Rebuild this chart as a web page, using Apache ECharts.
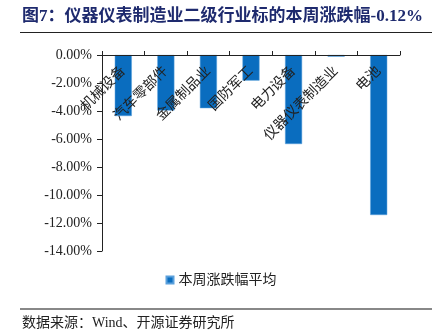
<!DOCTYPE html>
<html><head><meta charset="utf-8">
<script src="https://cdn.jsdelivr.net/npm/echarts@6/dist/echarts.min.js"></script>
<style>html,body{margin:0;padding:0;background:#fff}#c{width:442px;height:334px}</style>
</head><body><div id="c"></div>
<script>
const categories = ['机械设备','汽车零部件','金属制品业','国防军工','电力设备','仪器仪表制造业','电池'];
const values = [-4.36, -3.97, -3.80, -1.83, -6.36, -0.12, -11.43];
const seriesName = '本周涨跌幅平均';
const titleText = '图7：仪器仪表制造业二级行业标的本周涨跌幅-0.12%';
const sourceText = '数据来源：Wind、开源证券研究所';

const chart = echarts.init(document.getElementById('c'), null, {renderer:'canvas'});
const cjk = '"Liberation Serif","Noto Sans CJK SC",serif';
chart.setOption({
  animation:false,
  backgroundColor:'#fff',
  grid:{left:102,right:42,top:55,bottom:83,containLabel:false},
  legend:{
    data:[seriesName], bottom:42, left:'center',
    icon:'rect', itemWidth:7, itemHeight:7, itemGap:6,
    textStyle:{fontFamily:cjk,fontSize:14,color:'#222'}
  },
  xAxis:{
    type:'category', data:categories, position:'top', z:10,
    axisLine:{onZero:false,lineStyle:{color:'#222',width:1}},
    axisTick:{show:true,inside:false,length:4,alignWithLabel:false,lineStyle:{color:'#222'}},
    axisLabel:{inside:true,rotate:-45,align:'right',verticalAlign:'middle',margin:14,interval:0,fontFamily:cjk,fontSize:14,color:'#222'}
  },
  yAxis:{
    type:'value', min:-14, max:0, interval:2,
    splitLine:{show:false},
    axisLine:{show:true,lineStyle:{color:'#222',width:1}},
    axisTick:{show:true,length:5,lineStyle:{color:'#222'}},
    axisLabel:{formatter:v=>v.toFixed(2)+'%',fontFamily:'"Liberation Serif",serif',fontSize:14,color:'#222',margin:10}
  },
  series:[{
    name:seriesName, type:'bar', data:values, barCategoryGap:'60%',
    itemStyle:{color:'#0a6dbf',borderColor:'#5aa0dc',borderWidth:0.5}
  }],
  graphic:[
    {type:'text',left:22,top:8,style:{text:titleText,fontFamily:'"Liberation Serif","Noto Sans CJK SC",serif',fontWeight:'bold',fontSize:17,fill:'#1e2a6e'}},
    {type:'line',shape:{x1:20,y1:32.5,x2:432,y2:32.5},style:{stroke:'#222',lineWidth:1}},
    {type:'line',shape:{x1:20,y1:309,x2:432,y2:309},style:{stroke:'#888',lineWidth:2}},
    {type:'text',left:22,top:316,style:{text:sourceText,fontFamily:cjk,fontSize:14,fill:'#222'}}
  ]
});
</script></body></html>
